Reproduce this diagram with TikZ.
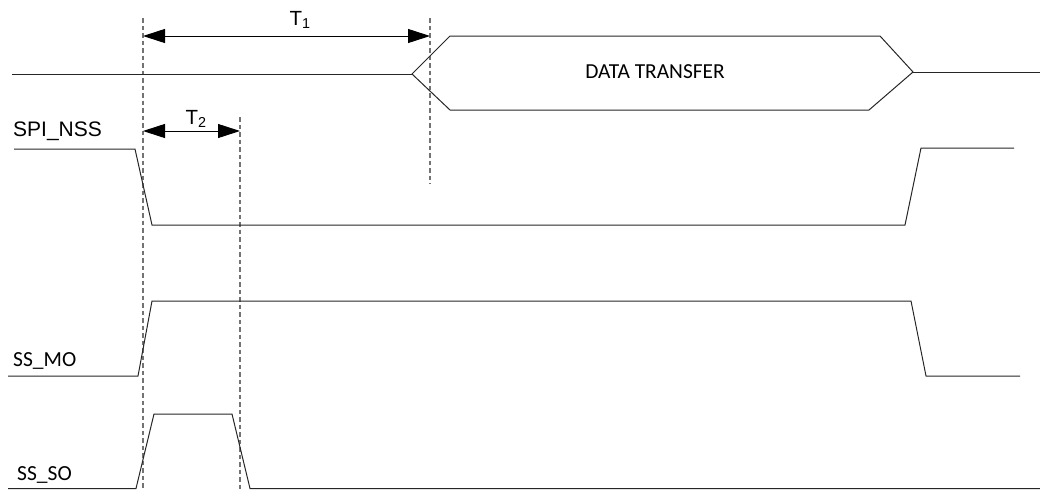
\documentclass[tikz,border=0pt]{standalone}
\usepackage{fontspec}
\setmainfont{Liberation Sans}
\newfontfamily\calfont{Carlito}
\usetikzlibrary{arrows.meta}

\begin{document}
\begin{tikzpicture}
    [
        x=1pt, y=-1pt,
        signal style/.style={line width=1pt, black!85, line join=miter},
        marker style/.style={line width=1.2pt, black!55, dash pattern=on 4.5pt off 3pt},
        dim style/.style={line width=1pt, {Triangle[length=22pt,width=14pt]}-{Triangle[length=22pt,width=14pt]}}
    ]
    \useasboundingbox (0,0) rectangle (1040,490);
    % time markers
    \coordinate (m1top) at (143,18);  \coordinate (m1bot) at (143,490);
    \coordinate (m2top) at (430,18);  \coordinate (m2bot) at (430,184);
    \coordinate (m3top) at (240,117); \coordinate (m3bot) at (240,490);
    \foreach \m in {m1,m2,m3} \draw[marker style] (\m top) -- (\m bot);
    % intervals
    \draw[dim style] (m1top |- 0,36) -- (m2top |- 0,36) coordinate[midway] (t1mid);
    \draw[dim style] (m1top |- 0,131) -- (m3top |- 0,131) coordinate[midway] (t2mid);
    \node[font=\fontsize{20.5}{24}\selectfont, anchor=base] (t1) at (300,25) {T\textsubscript{1}};
    \node[font=\fontsize{20.5}{24}\selectfont, anchor=base] (t2) at (196,124) {T\textsubscript{2}};
    % data bus
    \draw[signal style] (12,74) -- (412,74);
    \draw[signal style] (412,74) -- (450,36) -- (880,36) -- (913,72) -- (869,110) -- (450,110) -- cycle;
    \draw[signal style] (913,72) -- (1040,72);
    \node[font=\calfont\fontsize{21.4}{25}\selectfont, anchor=base] (data) at (655,78) {DATA TRANSFER};
    % SPI_NSS
    \node[font=\fontsize{21}{24}\selectfont, anchor=base west, inner sep=0pt] (nss) at (13,136) {SPI\_NSS};
    \draw[signal style] (14,149) -- (135,149) -- (152,225) -- (905,225) -- (921,148) -- (1014,148);
    % SS_MO
    \node[font=\calfont\fontsize{21.5}{25}\selectfont, anchor=base west, inner sep=0pt] (mo) at (13,366) {SS\_MO};
    \draw[signal style] (8,376) -- (138,376) -- (152,301) -- (911,301) -- (926,376) -- (1020,376);
    % SS_SO
    \node[font=\calfont\fontsize{21.5}{25}\selectfont, anchor=base west, inner sep=0pt] (so) at (17,480) {SS\_SO};
    \draw[signal style] (8,488.5) -- (136,488.5) -- (154,414) -- (232,414) -- (250,488.5) -- (1040,488.5);
\end{tikzpicture}
\end{document}
